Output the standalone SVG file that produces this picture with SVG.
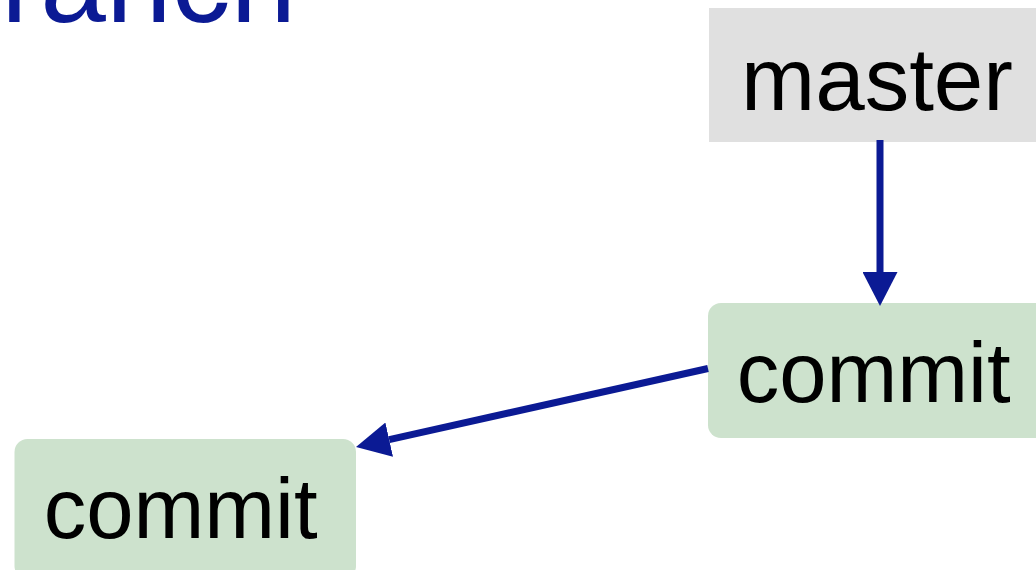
<svg xmlns="http://www.w3.org/2000/svg" width="1036" height="570" viewBox="0 0 1036 570">
<style>
.lbl{font-family:"Liberation Sans",Arial,sans-serif;font-size:85px;fill:#000}
.mlbl{font-family:"Liberation Sans",Arial,sans-serif;font-size:89px;fill:#000}
.title{font-family:"Liberation Sans",Arial,sans-serif;font-size:118px;fill:#0b1a94}
.commit{fill:#cde2cd}
.ref{fill:#e0e0e0}
.edge{stroke:#0b1a94;stroke-width:7;fill:none}
</style>
<defs>
<marker id="ah" markerUnits="userSpaceOnUse" markerWidth="34" markerHeight="35" viewBox="0 0 34 35" refX="0" refY="17.5" orient="auto">
<path d="M0,0 L34,17.5 L0,35 Z" fill="#0b1a94"/>
</marker>
</defs>
<rect width="1036" height="570" fill="#fff"/>
<text class="title" x="1" y="22">ranch</text>
<g id="master">
<rect class="ref" x="709" y="8" width="340" height="134"/>
<text class="mlbl" x="741" y="110">master</text>
</g>
<g id="commit2">
<rect class="commit" x="708" y="303" width="345" height="135" rx="13"/>
<text class="lbl" x="736.7" y="402">commit</text>
</g>
<g id="commit1">
<rect class="commit" x="14.5" y="439" width="341.5" height="140" rx="13"/>
<text class="lbl" x="43.7" y="538">commit</text>
</g>
<g id="connectors">
<path class="edge" d="M880,140 L880,272" marker-end="url(#ah)"/>
<path class="edge" d="M708,368.5 L389.2,439.6" marker-end="url(#ah)"/>
</g>
</svg>
